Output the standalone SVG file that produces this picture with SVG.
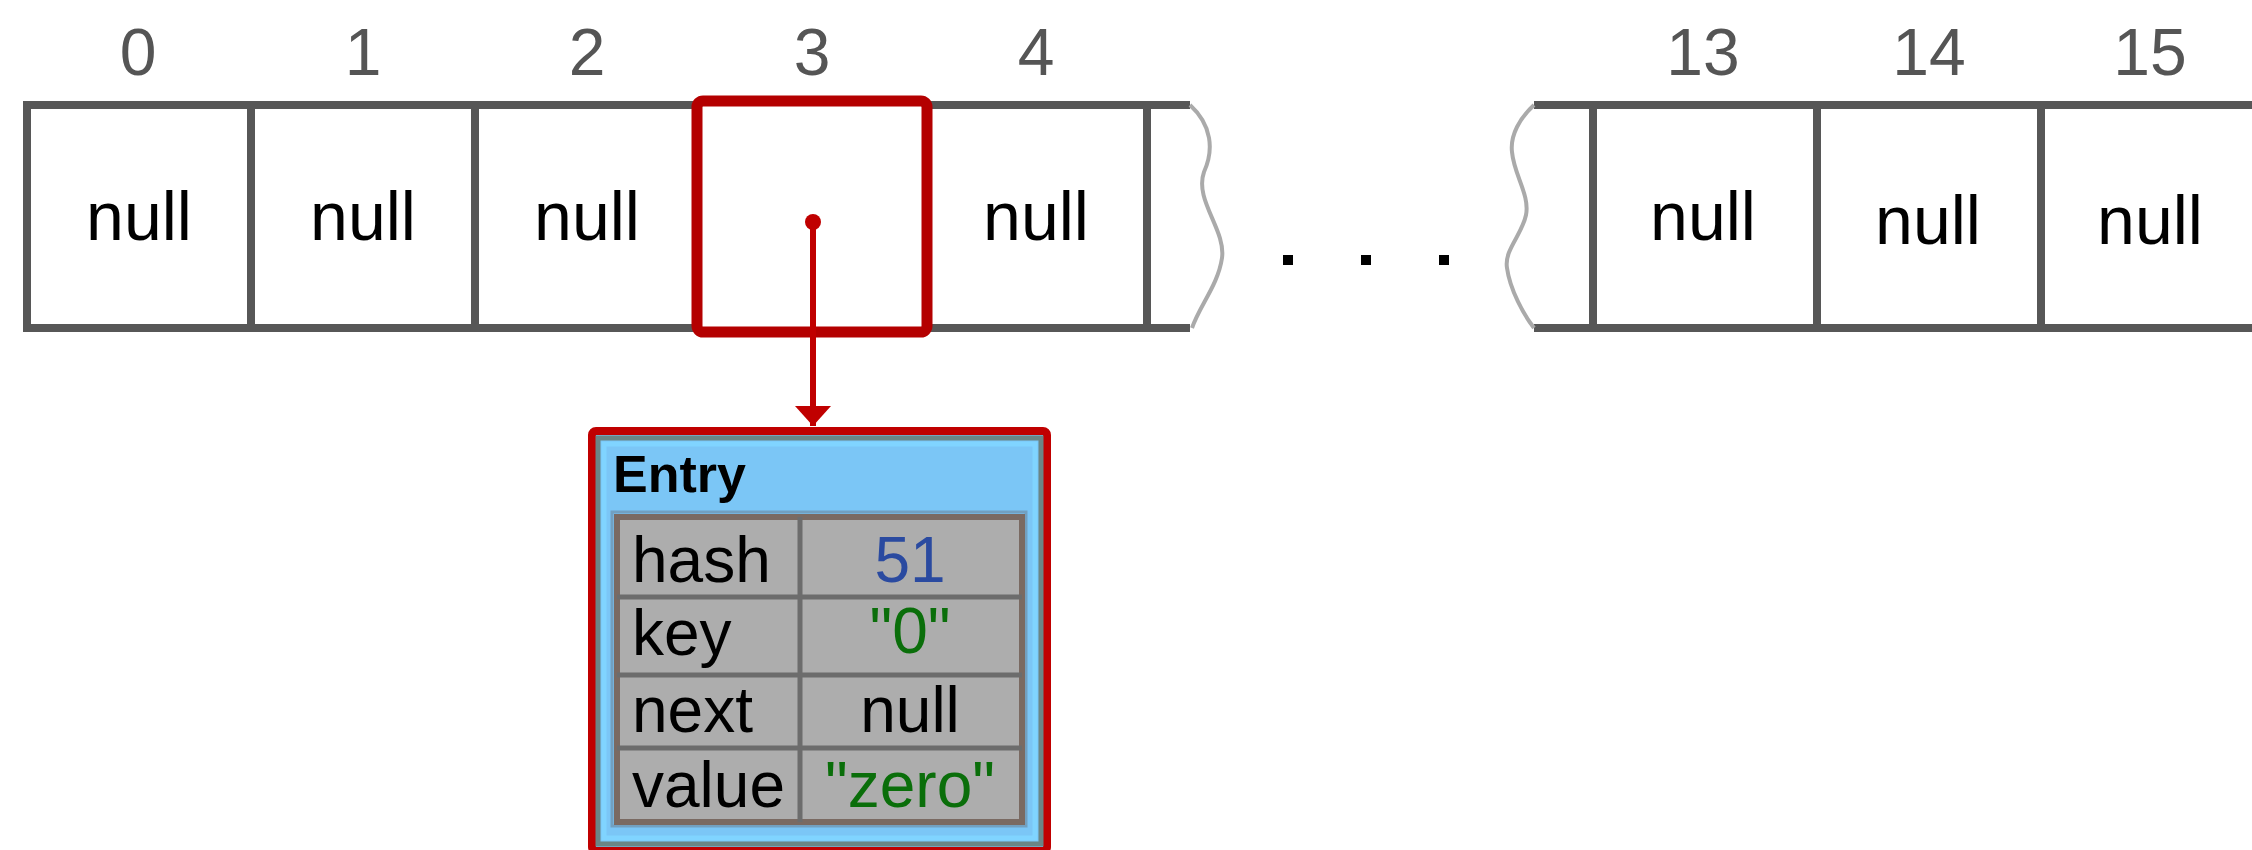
<svg xmlns="http://www.w3.org/2000/svg" width="2252" height="850" viewBox="0 0 2252 850">
<style>
.idx{font-family:"Liberation Sans",Arial,sans-serif;font-size:66px;fill:#555;text-anchor:middle}
.nul{font-family:"Liberation Sans",Arial,sans-serif;font-size:68px;fill:#000;text-anchor:middle}
.cell{fill:#fff;stroke:#575757;stroke-width:8}
.edge{stroke:#575757;stroke-width:8;fill:none}
.wave{stroke:#aaa;stroke-width:4;fill:none;stroke-linejoin:round}
.dot{fill:#000}
.tl{font-family:"Liberation Sans",Arial,sans-serif;font-size:64px;fill:#000}
.tv{font-family:"Liberation Sans",Arial,sans-serif;font-size:64px;text-anchor:middle}
.row{stroke:#6c6c6c;stroke-width:5}
</style>
<defs>
<marker id="ah" viewBox="0 0 20 36" refX="20" refY="18" markerWidth="20" markerHeight="36" markerUnits="userSpaceOnUse" orient="auto">
<path d="M0,0 L20,18 L0,36 Z" fill="#c00000"/>
</marker>
</defs>
<rect width="2252" height="850" fill="#fff"/>

<g id="array">
<g id="cell0"><rect class="cell" x="27" y="105" width="224" height="223"/><text class="idx" x="138" y="75">0</text><text class="nul" x="139" y="240">null</text></g>
<g id="cell1"><rect class="cell" x="251" y="105" width="224" height="223"/><text class="idx" x="363" y="75">1</text><text class="nul" x="363" y="240">null</text></g>
<g id="cell2"><rect class="cell" x="475" y="105" width="224" height="223"/><text class="idx" x="587" y="75">2</text><text class="nul" x="587" y="240">null</text></g>
<g id="cell4"><rect class="cell" x="923" y="105" width="224" height="223"/><text class="idx" x="1036" y="75">4</text><text class="nul" x="1036" y="240">null</text></g>
<g id="cell3"><rect x="697" y="101" width="230" height="231" rx="6" fill="#fff" stroke="#b40000" stroke-width="11"/><text class="idx" x="812" y="75">3</text></g>
<g id="breakL"><path class="edge" d="M1147,105 H1190 M1147,328 H1190"/><path class="wave" d="M1190,105 C1212,125 1214,150 1204,172 C1194,200 1226,230 1222,258 C1218,285 1200,305 1192,328"/></g>
<g id="dots"><rect class="dot" x="1283" y="255" width="10" height="10"/><rect class="dot" x="1361" y="255" width="10" height="10"/><rect class="dot" x="1439" y="255" width="10" height="10"/></g>
<g id="breakR"><path class="edge" d="M1534,105 H1593 M1534,328 H1593"/><path class="wave" d="M1534,105 C1520,118 1510,135 1512,152 C1514,175 1530,195 1526,215 C1522,235 1504,250 1507,268 C1510,290 1524,315 1534,328"/></g>
<g id="cell13"><rect class="cell" x="1593" y="105" width="224" height="223"/><text class="idx" x="1703" y="75">13</text><text class="nul" x="1703" y="240">null</text></g>
<g id="cell14"><rect class="cell" x="1817" y="105" width="224" height="223"/><text class="idx" x="1929" y="75">14</text><text class="nul" x="1928" y="244">null</text></g>
<g id="cell15"><rect class="cell" x="2041" y="105" width="224" height="223"/><text class="idx" x="2150" y="75">15</text><text class="nul" x="2150" y="244">null</text></g>
</g>

<g id="entry">
<rect x="592" y="431" width="455" height="420" rx="4" fill="#7bc6f6" stroke="#c00000" stroke-width="8"/>
<rect x="598" y="438" width="443" height="406" fill="none" stroke="#6b8585" stroke-width="5"/>
<rect x="604" y="444" width="431" height="394" fill="none" stroke="#80d4ff" stroke-width="5"/>
<text x="613" y="492" font-family="'Liberation Sans',Arial,sans-serif" font-size="52" font-weight="bold" fill="#000">Entry</text>
<rect x="612" y="512" width="414" height="314" fill="none" stroke="#72a0c0" stroke-width="3"/>
<rect x="617" y="517" width="405" height="305" fill="#adadad" stroke="#7a6a62" stroke-width="6"/>
<line class="row" x1="617" y1="597" x2="1022" y2="597"/>
<line class="row" x1="617" y1="675" x2="1022" y2="675"/>
<line class="row" x1="617" y1="748" x2="1022" y2="748"/>
<line class="row" x1="800" y1="517" x2="800" y2="822"/>
<text class="tl" x="632" y="582">hash</text>
<text class="tl" x="632" y="655">key</text>
<text class="tl" x="632" y="732">next</text>
<text class="tl" x="632" y="807">value</text>
<text class="tv" x="910" y="582" fill="#2a4aa0">51</text>
<text class="tv" x="910" y="653" fill="#0a6e0a">"0"</text>
<text class="tv" x="910" y="732" fill="#000">null</text>
<text class="tv" x="910" y="807" fill="#0a6e0a">"zero"</text>
</g>

<g id="connectors">
<circle cx="813" cy="222" r="8" fill="#c00000"/>
<line x1="813" y1="222" x2="813" y2="426" stroke="#c00000" stroke-width="6" marker-end="url(#ah)"/>
</g>
</svg>
